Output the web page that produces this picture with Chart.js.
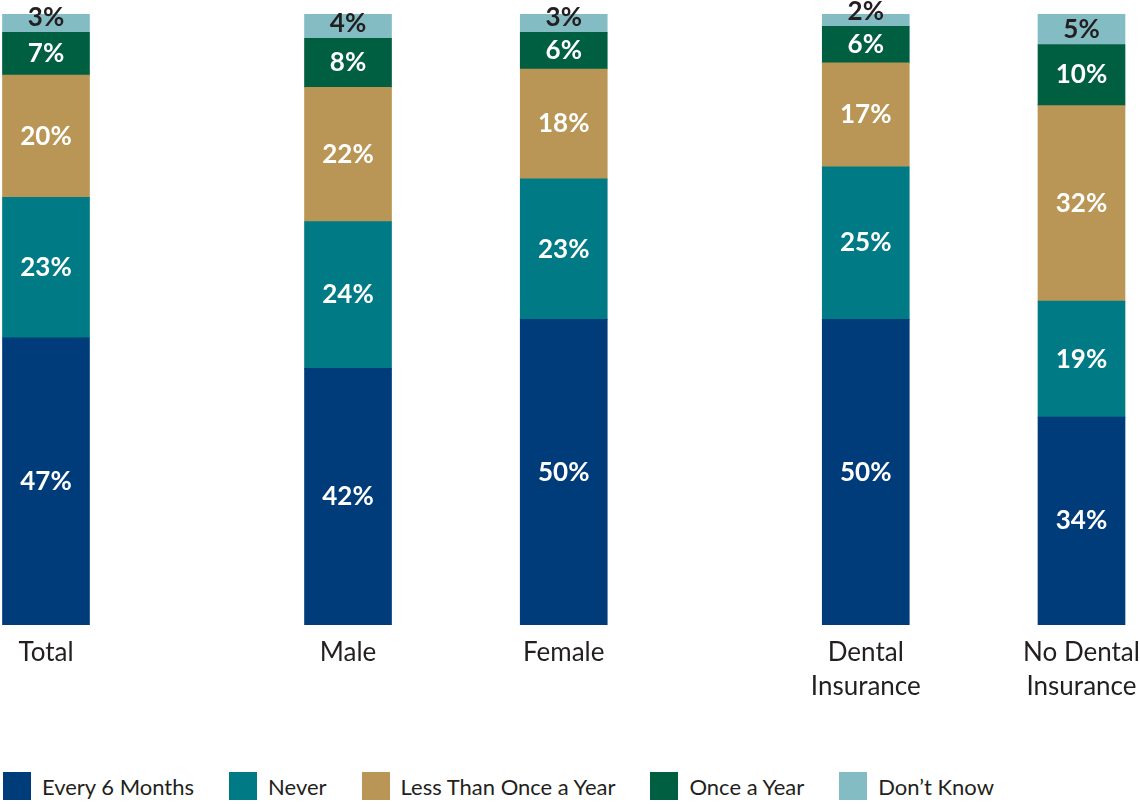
<!DOCTYPE html>
<html>
<head>
<meta charset="utf-8">
<script src="https://cdn.jsdelivr.net/npm/chart.js@4/dist/chart.umd.min.js"></script>
<style>
    body { margin: 0; background: #fff; }
    #wrap { position: relative; width: 1140px; height: 804px; }
    #chartBox { position: absolute; left: 0; top: 0; width: 1140px; height: 704px; }
    #legend { position: absolute; left: 3px; top: 772px; display: flex; align-items: center;
              font-family: Lato, "Open Sans", sans-serif; font-size: 22px; color: #231f20; }
    .item { display: flex; align-items: center; margin-right: 35px; }
    .box { width: 28px; height: 28px; margin-right: 11px; }
</style>
</head>
<body>
<div id="wrap">
    <div id="chartBox"><canvas id="chart"></canvas></div>
    <div id="legend"></div>
</div>
<script>
const categories = ['Total', 'Male', 'Female', ['Dental', 'Insurance'], ['No Dental', 'Insurance']];
const seriesNames = ['Every 6 Months', 'Never', 'Less Than Once a Year', 'Once a Year', "Don\u2019t Know"];
const every6Months = [47, 42, 50, 50, 34];
const never = [23, 24, 23, 25, 19];
const lessThanOnceAYear = [20, 22, 18, 17, 32];
const onceAYear = [7, 8, 6, 6, 10];
const dontKnow = [3, 4, 3, 2, 5];

// layout: slot of each bar along the axis (groups are spaced apart)
const slots = [0, 7, 12, 19, 24];
const colors = ['#003b7a', '#007a84', '#b99656', '#005e41', '#84bcc4'];

const seriesValues = [every6Months, never, lessThanOnceAYear, onceAYear, dontKnow];

const datasets = seriesValues.map((vals, i) => ({
    label: seriesNames[i],
    data: vals.map((v, j) => ({ x: slots[j], y: v })),
    backgroundColor: colors[i],
    borderWidth: 0,
    barThickness: 87
}));

// value labels inside the segments
const segmentLabels = {
    id: 'segmentLabels',
    afterDatasetsDraw(chart) {
        const ctx = chart.ctx;
        ctx.save();
        ctx.font = 'bold 26px Lato, "Open Sans", sans-serif';
        ctx.textAlign = 'center';
        ctx.textBaseline = 'middle';
        chart.data.datasets.forEach((ds, i) => {
            const meta = chart.getDatasetMeta(i);
            const last = i === chart.data.datasets.length - 1;
            meta.data.forEach((bar, j) => {
                const val = ds.data[j].y;
                let y = (bar.y + bar.base) / 2;
                if (last) y = bar.base - 15;
                ctx.fillStyle = last ? '#231f20' : '#ffffff';
                ctx.fillText(val + '%', bar.x, y);
            });
        });
        ctx.restore();
    }
};

new Chart(document.getElementById('chart'), {
    type: 'bar',
    data: { datasets: datasets },
    options: {
        responsive: true,
        maintainAspectRatio: false,
        animation: false,
        layout: { padding: { top: 14, left: 0, right: 0, bottom: 0 } },
        plugins: {
            legend: { display: false },
            tooltip: { enabled: false }
        },
        scales: {
            x: {
                type: 'linear',
                stacked: true,
                offset: false,
                min: -1.066,
                max: 25.356,
                grid: { display: false, drawTicks: true, tickLength: 11, offset: false },
                border: { display: false },
                afterBuildTicks: (axis) => {
                    axis.ticks = slots.map(v => ({ value: v }));
                },
                ticks: {
                    autoSkip: false,
                    maxRotation: 0,
                    padding: 0,
                    color: '#231f20',
                    font: { family: 'Lato, "Open Sans", sans-serif', size: 26, lineHeight: 1.31 },
                    callback: (value, index) => categories[index]
                }
            },
            y: {
                display: false,
                stacked: true,
                min: 0,
                max: 100
            }
        }
    },
    plugins: [segmentLabels]
});

const legend = document.getElementById('legend');
seriesNames.forEach((name, i) => {
    const item = document.createElement('div');
    item.className = 'item';
    item.innerHTML = `<span class="box" style="background:${colors[i]}"></span><span>${name}</span>`;
    legend.appendChild(item);
});
</script>
</body>
</html>
